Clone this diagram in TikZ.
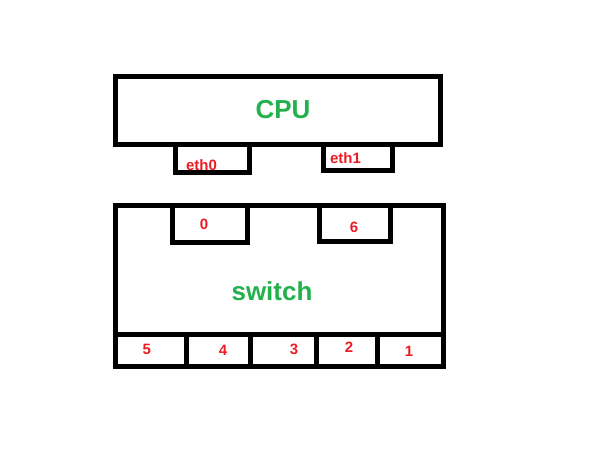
\documentclass[tikz,border=0pt]{standalone}
\usepackage{fontspec}
\setmainfont{Liberation Sans}
\usetikzlibrary{positioning}
\definecolor{paintgreen}{RGB}{34,177,76}
\definecolor{paintred}{RGB}{237,28,36}
\tikzset{
  box/.style={line width=5pt, line join=miter},
  title/.style={text=paintgreen, font=\bfseries\fontsize{26}{30}\selectfont, inner sep=0pt},
  port/.style={text=paintred, font=\bfseries\fontsize{15}{17}\selectfont, inner sep=0pt}
}
\begin{document}
\begin{tikzpicture}[x=1pt, y=-1pt]
      \useasboundingbox (0,0) rectangle (601,469);
      % cpu with its two interfaces
      \draw[box] (115,76) rectangle (440,144);
      \draw[box] (175.5,144) -- (175.5,172.5) -- (249.5,172.5) -- (249.5,144);
      \draw[box] (323.5,144) -- (323.5,170) -- (392.5,170) -- (392.5,144);
      \node[title] (cpu) at (283,110) {CPU};
      \node[port] (eth0) at (201.5,165) {eth0};
      \node[port] (eth1) at (345.5,158) {eth1};
      % switch with its ports
      \draw[box] (115,205) rectangle (443,366.5);
      \draw[box] (172.5,205) -- (172.5,242) -- (247.5,242) -- (247.5,205);
      \draw[box] (319,205) -- (319,241) -- (390,241) -- (390,205);
      \draw[box] (115,334) -- (443,334);
      \foreach \x in {186,250.5,316.5,377.7}
        \draw[box] (\x,334) -- (\x,366.5);
      \node[title] (switch) at (272,291) {switch};
      \node[port] (p0) at (204,224) {0};
      \node[port] (p6) at (354,227) {6};
      \node[port] (p5) at (146.7,349) {5};
      \node[port] (p4) at (223,350) {4};
      \node[port] (p3) at (294,349) {3};
      \node[port] (p2) at (349,347.7) {2};
      \node[port] (p1) at (409,351) {1};
\end{tikzpicture}
\end{document}
